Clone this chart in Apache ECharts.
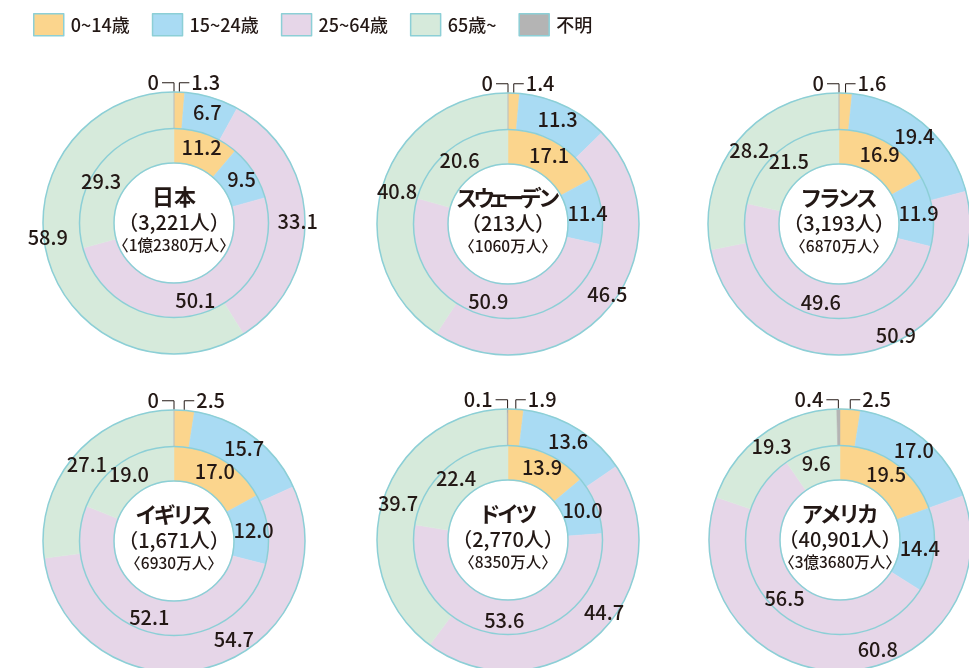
<!DOCTYPE html>
<html lang="ja">
<head>
<meta charset="utf-8">
<title>年齢層別構成</title>
<script src="https://cdn.jsdelivr.net/npm/echarts@6/dist/echarts.min.js"></script>
<style>
  html, body { margin: 0; padding: 0; background: #ffffff; }
  #chart { width: 969px; height: 668px; }
</style>
</head>
<body>
<div id="chart"></div>
<script>
// Age groups (legend order)
const groups = ['0~14歳', '15~24歳', '25~64歳', '65歳~', '不明'];

// Countries, with the count shown in the centre and total population
const countries = ['日本', 'スウェーデン', 'フランス', 'イギリス', 'ドイツ', 'アメリカ'];
const counts = ['3,221人', '213人', '3,193人', '1,671人', '2,770人', '40,901人'];
const populations = ['1億2380万人', '1060万人', '6870万人', '6930万人', '8350万人', '3億3680万人'];

// Outer ring (%) per age group, one value per country
const outer0to14 = [1.3, 1.4, 1.6, 2.5, 1.9, 2.5];
const outer15to24 = [6.7, 11.3, 19.4, 15.7, 13.6, 17.0];
const outer25to64 = [33.1, 46.5, 50.9, 54.7, 44.7, 60.8];
const outer65plus = [58.9, 40.8, 28.2, 27.1, 39.7, 19.3];
const outerUnknown = [0, 0, 0, 0, 0.1, 0.4];

// Inner ring (%) per age group, one value per country
const inner0to14 = [11.2, 17.1, 16.9, 17.0, 13.9, 19.5];
const inner15to24 = [9.5, 11.4, 11.9, 12.0, 10.0, 14.4];
const inner25to64 = [50.1, 50.9, 49.6, 52.1, 53.6, 56.5];
const inner65plus = [29.3, 20.6, 21.5, 19.0, 22.4, 9.6];

const outerSets = [outer0to14, outer15to24, outer25to64, outer65plus, outerUnknown];
const innerSets = [inner0to14, inner15to24, inner25to64, inner65plus];

// ---- styling / layout ----
const FONT = '"Noto Sans CJK JP", "Noto Sans", sans-serif';
const TEXT = '#231815';
const LINE = '#8ccfd6';
const COLORS = ['#fbd58d', '#a9dbf3', '#e6d6e8', '#d6eadb', '#b4b4b4'];
const CENTERS = [[174, 223], [508, 224], [839, 224], [174, 541], [508, 540], [840, 540]];
const R_HOLE = 60, R_MID = 94.5, R_OUT = 131;

// small label shifts (dx, dy) so that labels sit clear of each other
const OUTER_SHIFT = [
  { 2: [8, 2], 3: [-15, -18] },
  { 2: [10, -3] },
  { 2: [31, -1] },
  { 2: [28, -13] },
  { 2: [16, -11] },
  { 2: [37, -6] }
];
const INNER_SHIFT = [{ 3: [-9, 7] }, {}, {}, {}, {}, {}];

const fmt = v => (v === 0 ? '0' : v.toFixed(1));

const labelText = {
  fontFamily: FONT,
  fontSize: 20,
  fontWeight: 500,
  color: TEXT
};

// Country names are set with proportional kana widths, one token per character
const NAME_SIZE = 22;
const SMALL_KANA = 'ァィゥェォッャュョ';
function nameTokens(name) {
  return Array.from(name).map(ch => {
    let key = 'nk';
    if (SMALL_KANA.includes(ch)) key = 'ns';
    else if (ch === 'ー' || ch === 'ウ') key = 'nn';
    else if (!/[\u30A0-\u30FF]/.test(ch)) key = 'nh';
    return `{${key}|${ch}}`;
  }).join('');
}
const nameStyle = w => ({
  fontFamily: FONT, fontSize: NAME_SIZE, fontWeight: 'bold', color: TEXT,
  lineHeight: 27, width: w, align: 'center'
});

const series = [];

countries.forEach((country, ci) => {
  const center = CENTERS[ci];

  // inner ring
  series.push({
    type: 'pie',
    silent: true,
    center: center,
    radius: [R_HOLE, R_MID],
    startAngle: 90,
    clockwise: true,
    avoidLabelOverlap: false,
    emphasis: { disabled: true },
    label: Object.assign({ show: true, position: 'inside', formatter: p => fmt(p.value) }, labelText),
    labelLine: { show: false },
    labelLayout: p => {
      const s = INNER_SHIFT[ci][p.dataIndex];
      return s ? { dx: s[0], dy: s[1] } : {};
    },
    data: innerSets.map((arr, k) => ({
      name: groups[k],
      value: arr[ci],
      itemStyle: { color: COLORS[k], borderColor: COLORS[k], borderWidth: 0.5 }
    }))
  });

  // outer ring
  series.push({
    type: 'pie',
    silent: true,
    center: center,
    radius: [R_MID, R_OUT],
    startAngle: 90,
    clockwise: true,
    avoidLabelOverlap: false,
    emphasis: { disabled: true },
    label: Object.assign({ show: true, position: 'inside', formatter: p => fmt(p.value) }, labelText),
    labelLine: { show: false },
    labelLayout: p => {
      const i = p.dataIndex;
      if (i === 0 || i === 4) {
        const r = p.rect;
        let ax = center[0];
        let top = center[1] - R_OUT;
        if (r && isFinite(r.x) && isFinite(r.y) && r.width < 40) {
          ax = r.x + r.width / 2;
          top = r.y;
        }
        const bend = top - 9;
        if (i === 0) {
          return {
            x: ax + 12, y: bend, align: 'left', verticalAlign: 'middle',
            labelLinePoints: [[ax, top + 4], [ax, bend], [ax + 10, bend]]
          };
        }
        return {
          x: ax - 15, y: bend, align: 'right', verticalAlign: 'middle',
          labelLinePoints: [[ax, top + 4], [ax, bend], [ax - 12, bend]]
        };
      }
      const s = OUTER_SHIFT[ci][i];
      return s ? { dx: s[0], dy: s[1] } : {};
    },
    data: outerSets.map((arr, k) => {
      const item = {
        name: groups[k],
        value: arr[ci],
        itemStyle: { color: COLORS[k], borderColor: COLORS[k], borderWidth: 0.5 }
      };
      if (k === 0 || k === 4) {
        item.label = { position: 'outside' };
        item.labelLine = { show: true, length: 8, length2: 8, lineStyle: { color: TEXT, width: 1 } };
      }
      return item;
    })
  });

  // ring outlines (hole edge + outer edge), with the country caption in the hole
  series.push({
    type: 'pie',
    silent: true,
    center: center,
    radius: [R_HOLE, R_OUT],
    emphasis: { disabled: true },
    itemStyle: { color: 'rgba(0,0,0,0)', borderColor: LINE, borderWidth: 1.5 },
    label: {
      show: true,
      position: 'center',
      padding: [0, 0, 6, 0],
      formatter: () => `${nameTokens(country)}\n{c|（${counts[ci]}）}\n{p|〈${populations[ci]}〉}`,
      rich: {
        nh: nameStyle(22),
        nk: nameStyle(18.5),
        nn: nameStyle(16.5),
        ns: nameStyle(12.5),
        c: { fontFamily: FONT, fontSize: 20, fontWeight: 500, color: TEXT, lineHeight: 24 },
        p: { fontFamily: FONT, fontSize: 15.5, fontWeight: 500, color: TEXT, lineHeight: 23 }
      }
    },
    labelLine: { show: false },
    data: [{ name: 'outline', value: 1 }]
  });

  // boundary circle between the two rings
  series.push({
    type: 'pie',
    silent: true,
    center: center,
    radius: [0, R_MID],
    emphasis: { disabled: true },
    itemStyle: { color: 'rgba(0,0,0,0)', borderColor: LINE, borderWidth: 1.5 },
    label: { show: false },
    labelLine: { show: false },
    data: [{ name: 'divider', value: 1 }]
  });
});

const chart = echarts.init(document.getElementById('chart'), null, { renderer: 'canvas' });
chart.setOption({
  animation: false,
  backgroundColor: '#ffffff',
  legend: {
    data: groups,
    left: 33,
    top: 13,
    padding: 0,
    itemWidth: 30,
    itemHeight: 22,
    itemGap: 22,
    icon: 'rect',
    selectedMode: false,
    itemStyle: { borderColor: LINE, borderWidth: 1.5 },
    textStyle: { fontFamily: FONT, fontSize: 18, fontWeight: 500, color: TEXT, padding: [0, 0, 0, 2] }
  },
  series: series
});
</script>
</body>
</html>
